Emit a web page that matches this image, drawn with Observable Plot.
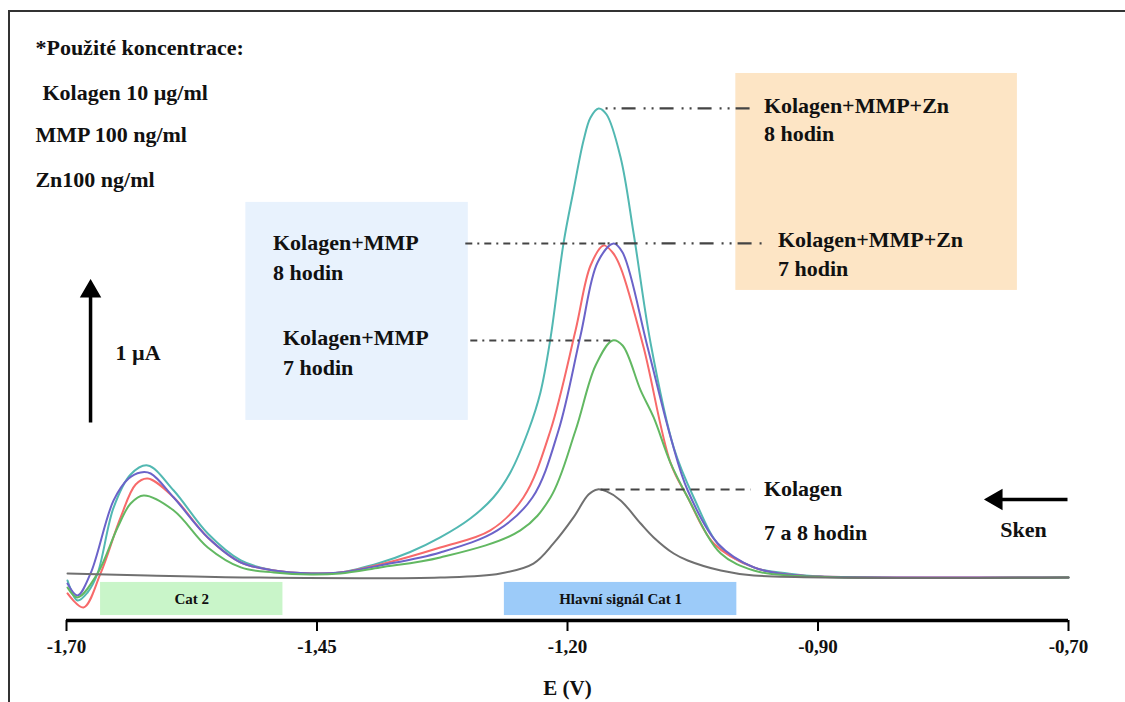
<!DOCTYPE html>
<html>
<head>
<meta charset="utf-8">
<script src="https://cdn.jsdelivr.net/npm/d3@7"></script>
<script src="https://cdn.jsdelivr.net/npm/@observablehq/plot@0.6"></script>
<style>
  html, body { margin: 0; padding: 0; background: #fff; }
  #wrap { position: relative; width: 1125px; height: 702px; overflow: hidden; }
  #border { position: absolute; left: 8px; top: 10px; width: 1130px; height: 710px; border: 2px solid #333; pointer-events: none; box-sizing: border-box; }
  svg text { font-family: "Liberation Serif", Tinos, "Times New Roman", Times, "DejaVu Serif", "Noto Serif", serif !important; }
</style>
</head>
<body>
<div id="wrap"><div id="border"></div></div>
<script>
// ---- Data (E in V, I in µA above baseline) ----
const seriesNames = ["Kolagen+MMP+Zn 8 hodin", "Kolagen+MMP 8 hodin", "Kolagen+MMP+Zn 7 hodin", "Kolagen+MMP 7 hodin", "Kolagen 7 a 8 hodin"];
const seriesColors = ["#52b8b2", "#f76a6a", "#6b63c9", "#62b862", "#707070"];

const zn8E = [-1.699,-1.689,-1.679,-1.669,-1.653,-1.636,-1.619,-1.593,-1.559,-1.526,-1.493,-1.456,-1.427,-1.387,-1.357,-1.327,-1.297,-1.274,-1.257,-1.239,-1.227,-1.217,-1.204,-1.194,-1.184,-1.177,-1.169,-1.161,-1.147,-1.134,-1.117,-1.094,-1.074,-1.047,-1.014,-0.980,-0.948,-0.700];
const zn8I = [-0.022,-0.172,-0.112,0.030,0.522,0.769,0.836,0.649,0.328,0.127,0.052,0.030,0.037,0.110,0.190,0.299,0.440,0.597,0.784,1.097,1.381,1.784,2.493,2.888,3.261,3.433,3.500,3.455,3.134,2.567,1.746,0.970,0.597,0.224,0.075,0.030,0.007,0];

const mmp8E = [-1.699,-1.683,-1.666,-1.646,-1.631,-1.619,-1.593,-1.559,-1.526,-1.493,-1.456,-1.427,-1.387,-1.327,-1.277,-1.244,-1.217,-1.192,-1.177,-1.164,-1.155,-1.147,-1.124,-1.097,-1.080,-1.054,-1.014,-0.980,-0.948,-0.700];
const mmp8I = [-0.119,-0.224,0.030,0.448,0.694,0.739,0.597,0.299,0.112,0.052,0.030,0.037,0.097,0.224,0.351,0.597,1.097,1.843,2.328,2.478,2.425,2.313,1.716,0.851,0.597,0.254,0.075,0.022,0.007,0];

const zn7E = [-1.699,-1.689,-1.676,-1.653,-1.638,-1.626,-1.616,-1.593,-1.559,-1.526,-1.493,-1.456,-1.427,-1.387,-1.327,-1.270,-1.235,-1.209,-1.187,-1.170,-1.154,-1.145,-1.120,-1.097,-1.080,-1.050,-1.014,-0.980,-0.948,-0.700];
const zn7I = [-0.045,-0.134,0.030,0.575,0.739,0.784,0.776,0.597,0.299,0.112,0.052,0.030,0.037,0.090,0.187,0.351,0.597,1.097,1.806,2.351,2.493,2.425,1.716,1.045,0.649,0.254,0.075,0.022,0.007,0];

const mmp7E = [-1.699,-1.689,-1.669,-1.649,-1.636,-1.623,-1.593,-1.559,-1.526,-1.493,-1.456,-1.427,-1.387,-1.327,-1.247,-1.217,-1.192,-1.172,-1.155,-1.145,-1.127,-1.114,-1.097,-1.080,-1.047,-1.014,-0.980,-0.700];
const mmp7I = [-0.075,-0.149,0.030,0.373,0.552,0.612,0.500,0.224,0.075,0.037,0.022,0.030,0.075,0.149,0.351,0.597,1.097,1.582,1.769,1.731,1.396,1.194,0.851,0.597,0.179,0.052,0.015,0];

const kolE = [-1.699,-1.619,-1.516,-1.327,-1.267,-1.234,-1.214,-1.194,-1.179,-1.170,-1.161,-1.147,-1.127,-1.114,-1.094,-1.080,-1.047,-1.014,-0.700];
const kolI = [0.030,0.015,0,0,0.030,0.104,0.254,0.448,0.619,0.657,0.642,0.575,0.403,0.299,0.179,0.127,0.052,0.015,0];

const tickValues = [-1.70, -1.45, -1.20, -0.95, -0.70];
const tickLabels = ["-1,70", "-1,45", "-1,20", "-0,90", "-0,70"];

const concLines = ["*Použité koncentrace:", "Kolagen 10 µg/ml", "MMP 100 ng/ml", "Zn100 ng/ml"];

// ---- Build tables ----
const allE = [zn8E, mmp8E, zn7E, mmp7E, kolE];
const allI = [zn8I, mmp8I, zn7I, mmp7I, kolI];
const curves = [];
allE.forEach((es, s) => es.forEach((e, i) => curves.push({E: e, I: allI[s][i], series: seriesNames[s]})));

// ---- Annotation layout (data coordinates) ----
const boxes = [
  {x1: -1.521, x2: -1.299, y1: 2.799, y2: 1.172, fill: "#e8f2fd"},
  {x1: -1.032, x2: -0.751, y1: 3.761, y2: 2.142, fill: "#fde5c5"},
  {x1: -1.666, x2: -1.484, y1: -0.037, y2: -0.284, fill: "#c9f5c9"},
  {x1: -1.263, x2: -1.031, y1: -0.037, y2: -0.284, fill: "#9ccbf9"}
];
const boxTexts = [
  {x: -1.575, y: -0.16, t: "Cat 2"},
  {x: -1.147, y: -0.16, t: "Hlavní signál Cat 1"}
];
const labels = [
  {x: -1.731, y: 3.955, t: concLines[0]},
  {x: -1.724, y: 3.612, t: concLines[1]},
  {x: -1.731, y: 3.299, t: concLines[2]},
  {x: -1.731, y: 2.963, t: concLines[3]},
  {x: -1.004, y: 3.515, t: "Kolagen+MMP+Zn"},
  {x: -1.004, y: 3.313, t: "8 hodin"},
  {x: -0.990, y: 2.515, t: "Kolagen+MMP+Zn"},
  {x: -0.990, y: 2.306, t: "7 hodin"},
  {x: -1.494, y: 2.500, t: "Kolagen+MMP"},
  {x: -1.494, y: 2.276, t: "8 hodin"},
  {x: -1.484, y: 1.784, t: "Kolagen+MMP"},
  {x: -1.484, y: 1.560, t: "7 hodin"},
  {x: -1.004, y: 0.657, t: "Kolagen"},
  {x: -1.004, y: 0.336, t: "7 a 8 hodin"},
  {x: -0.768, y: 0.351, t: "Sken"},
  {x: -1.651, y: 1.679, t: "1 µA"}
];
const dashDotDot = [
  {x1: -1.162, x2: -1.017, y: 3.500},
  {x1: -1.160, x2: -1.002, y: 2.493}
];
const dashDot = [
  {x1: -1.302, x2: -1.160, y: 2.493},
  {x1: -1.297, x2: -1.155, y: 1.769}
];
const dashed = [{x1: -1.167, x2: -1.017, y: 0.657}];
const arrowShafts = [
  {x1: -1.676, y1: 1.157, x2: -1.676, y2: 2.12},
  {x1: -0.701, y1: 0.582, x2: -0.770, y2: 0.582}
];
const arrowHeads = [
  {x: -1.676, y: 2.135, rotate: 0},
  {x: -0.772, y: 0.582, rotate: -90}
];
const yDomain = [-0.321, 4.216];

const font = "'Liberation Serif', Tinos, 'Times New Roman', Times, 'DejaVu Serif', 'Noto Serif', serif";

const chart = Plot.plot({
  width: 1125,
  height: 702,
  marginLeft: 66,
  marginRight: 57,
  marginTop: 12,
  marginBottom: 82,
  style: {fontFamily: font, background: "transparent", overflow: "visible"},
  x: {domain: [-1.70, -0.70]},
  y: {domain: yDomain, axis: null},
  color: {domain: seriesNames, range: seriesColors},
  marks: [
    Plot.rect(boxes, {x1: "x1", x2: "x2", y1: "y1", y2: "y2", fill: d => d.fill}),
    Plot.text(boxTexts, {x: "x", y: "y", text: "t", fontSize: 15, fontWeight: "bold", fill: "#111", fontFamily: font}),
    Plot.line(curves, {x: "E", y: "I", z: "series", stroke: "series", strokeWidth: 2, curve: "catmull-rom"}),
    Plot.link(dashDotDot, {x1: "x1", x2: "x2", y1: "y", y2: "y", stroke: "#444", strokeWidth: 2.2, strokeDasharray: "2 6 2 6 14 8"}),
    Plot.link(dashDot, {x1: "x1", x2: "x2", y1: "y", y2: "y", stroke: "#444", strokeWidth: 2, strokeDasharray: "7 5 2 5"}),
    Plot.link(dashed, {x1: "x1", x2: "x2", y1: "y", y2: "y", stroke: "#444", strokeWidth: 2, strokeDasharray: "9 6"}),
    Plot.link(arrowShafts, {x1: "x1", y1: "y1", x2: "x2", y2: "y2", stroke: "#000", strokeWidth: 3.5}),
    Plot.dot(arrowHeads, {x: "x", y: "y", rotate: "rotate", symbol: "triangle", r: 7, fill: "#000", stroke: "#000"}),
    Plot.text(labels, {x: "x", y: "y", text: "t", textAnchor: "start", fontSize: 22, fontWeight: "bold", fill: "#111", fontFamily: font}),
    Plot.ruleY([yDomain[0]], {stroke: "#000", strokeWidth: 3.5}),
    Plot.axisX(tickValues, {
      tickFormat: d => tickLabels[tickValues.indexOf(d)],
      tickSize: 11, tickPadding: 8, fontSize: 19, fontWeight: "bold", fontFamily: font,
      stroke: "#000", strokeWidth: 2, fill: "#111", label: null
    }),
    Plot.text(["E (V)"], {x: -1.20, y: -0.83, text: d => d, fontSize: 21, fontWeight: "bold", fill: "#111", fontFamily: font})
  ]
});
document.getElementById("wrap").prepend(chart);
</script>
</body>
</html>
